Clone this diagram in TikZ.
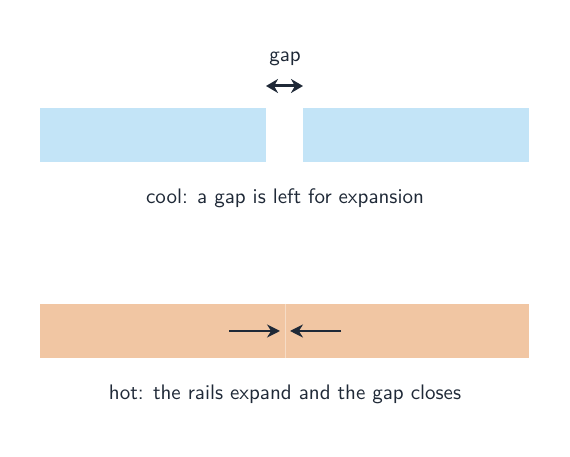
\documentclass[tikz,border=0pt]{standalone}
\usetikzlibrary{arrows.meta}
\definecolor{ink}{HTML}{1F2937}
\definecolor{coolrail}{HTML}{C3E4F7}
\definecolor{hotrail}{HTML}{F1C6A3}
\definecolor{joint}{HTML}{F6DCC6}
\newcommand{\bigsans}[1]{\scalebox{2.1}{\sffamily\fontsize{10}{12}\selectfont #1}}
\begin{document}
\begin{tikzpicture}[x=1pt,y=1pt,
  rail/.style={draw=none,inner sep=0pt,minimum height=54pt},
  lbl/.style={text=ink,inner sep=0pt,anchor=base},
  push/.style={draw=ink,line width=2pt,-{Stealth[length=13pt,width=13pt]}},
  gaparrow/.style={draw=ink,line width=3pt,{Stealth[length=12pt,width=14pt]}-{Stealth[length=12pt,width=14pt]}}]
\useasboundingbox (0,0) rectangle (570,457);
% cool rails
\node[rail,fill=coolrail,minimum width=226pt] (cl) at (153,322) {};
\node[rail,fill=coolrail,minimum width=226pt] (cr) at (416,322) {};
\node[lbl] (gap) at (285,395) {\bigsans{gap}};
\coordinate (ga) at (266,371);
\coordinate (gb) at (303,371);
\draw[gaparrow] (ga) -- (gb);
\node[lbl] (cooltxt) at (285,253) {\bigsans{cool: a gap is left for expansion}};
% hot rails
\node[rail,fill=hotrail,minimum width=245pt] (hl) at (162.5,126) {};
\node[rail,fill=hotrail,minimum width=244pt] (hr) at (407,126) {};
\draw[joint,line width=0.8pt] (hl.north east) -- (hl.south east);
\coordinate (pl) at (229,126);
\coordinate (pr) at (341,126);
\draw[push] (pl) -- (280,126);
\draw[push] (pr) -- (290,126);
\node[lbl] (hottxt) at (285,57) {\bigsans{hot: the rails expand and the gap closes}};
\end{tikzpicture}
\end{document}
